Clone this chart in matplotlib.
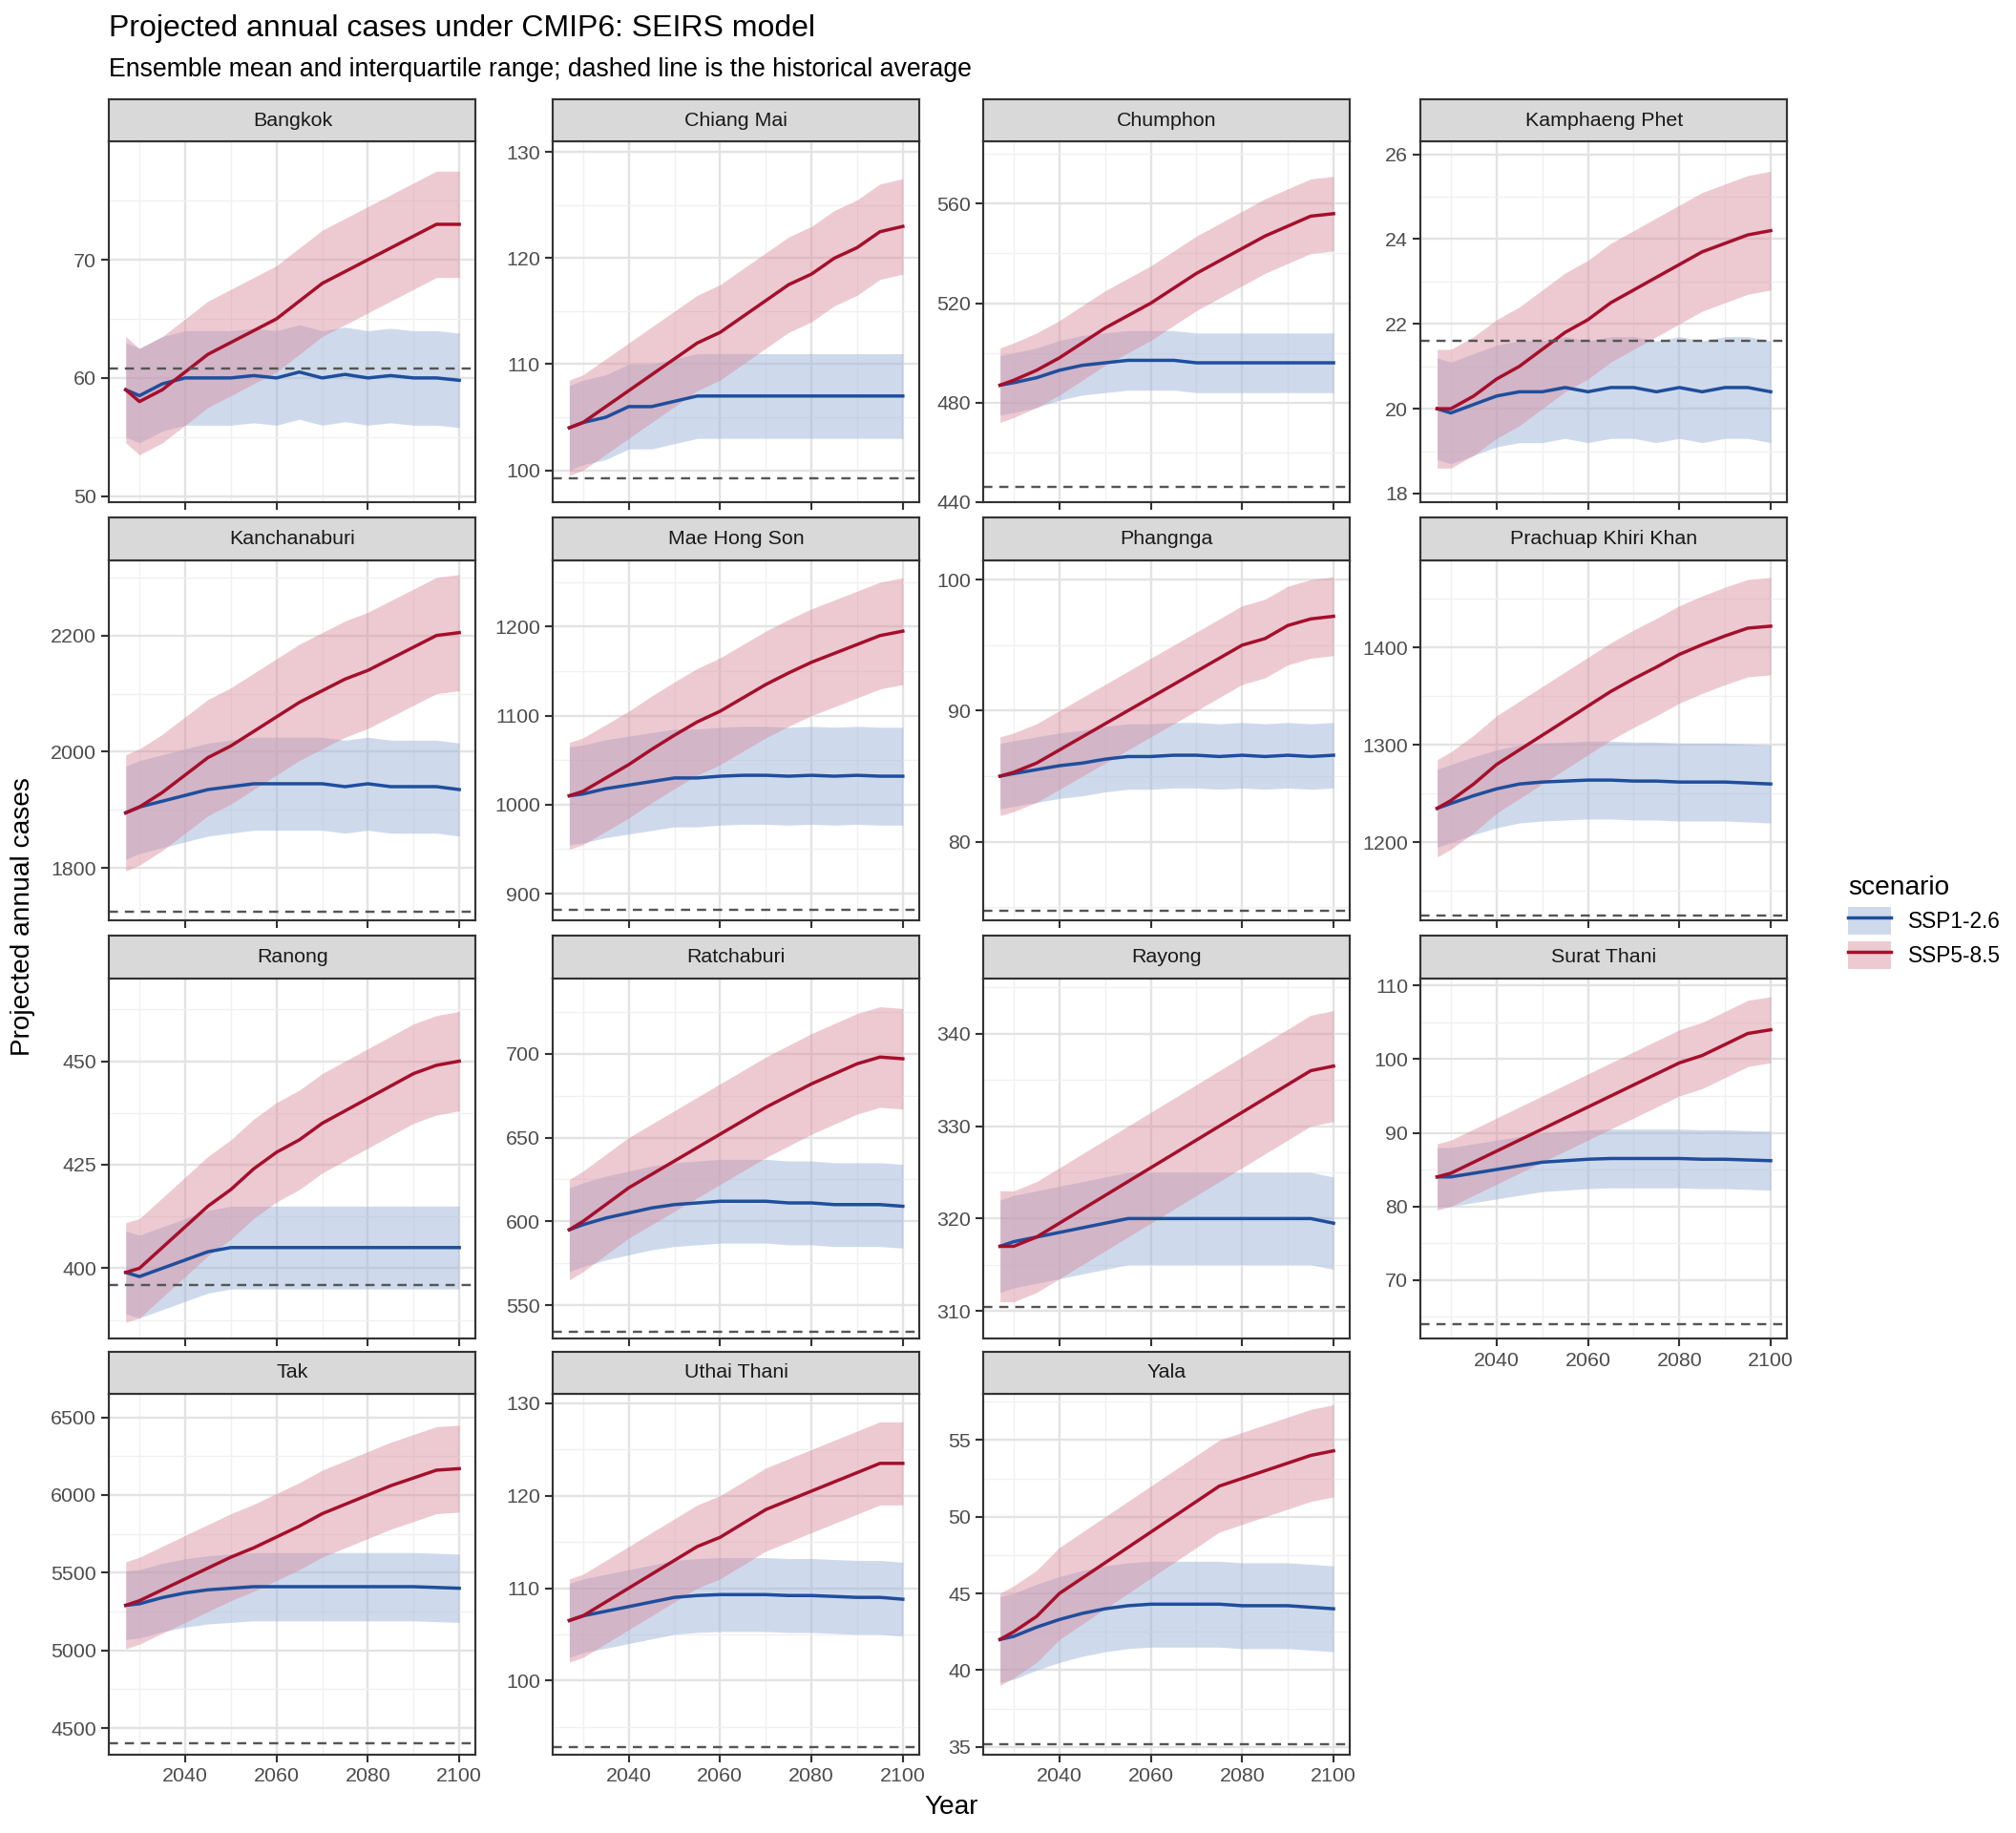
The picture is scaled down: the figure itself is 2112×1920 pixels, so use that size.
import matplotlib
matplotlib.use("Agg")
import matplotlib.pyplot as plt
from matplotlib.patches import Patch
from matplotlib.lines import Line2D
import numpy as np

plt.rcParams['font.family'] = ['Liberation Sans', 'DejaVu Sans']

years = [2027, 2030, 2035, 2040, 2045, 2050, 2055, 2060, 2065, 2070, 2075, 2080, 2085, 2090, 2095, 2100]

provinces = ["Bangkok", "Chiang Mai", "Chumphon", "Kamphaeng Phet",
             "Kanchanaburi", "Mae Hong Son", "Phangnga", "Prachuap Khiri Khan",
             "Ranong", "Ratchaburi", "Rayong", "Surat Thani",
             "Tak", "Uthai Thani", "Yala"]

ssp126 = {
    "Bangkok": [59, 58.5, 59.5, 60, 60, 60, 60.2, 60, 60.5, 60, 60.3, 60, 60.2, 60, 60, 59.8],
    "Chiang Mai": [104, 104.5, 105, 106, 106, 106.5, 107, 107, 107, 107, 107, 107, 107, 107, 107, 107],
    "Chumphon": [487, 488, 490, 493, 495, 496, 497, 497, 497, 496, 496, 496, 496, 496, 496, 496],
    "Kamphaeng Phet": [20, 19.9, 20.1, 20.3, 20.4, 20.4, 20.5, 20.4, 20.5, 20.5, 20.4, 20.5, 20.4, 20.5, 20.5, 20.4],
    "Kanchanaburi": [1895, 1905, 1915, 1925, 1935, 1940, 1945, 1945, 1945, 1945, 1940, 1945, 1940, 1940, 1940, 1935],
    "Mae Hong Son": [1010, 1012, 1018, 1022, 1026, 1030, 1030, 1032, 1033, 1033, 1032, 1033, 1032, 1033, 1032, 1032],
    "Phangnga": [85, 85.2, 85.5, 85.8, 86, 86.3, 86.5, 86.5, 86.6, 86.6, 86.5, 86.6, 86.5, 86.6, 86.5, 86.6],
    "Prachuap Khiri Khan": [1235, 1240, 1248, 1255, 1260, 1262, 1263, 1264, 1264, 1263, 1263, 1262, 1262, 1262, 1261, 1260],
    "Ranong": [399, 398, 400, 402, 404, 405, 405, 405, 405, 405, 405, 405, 405, 405, 405, 405],
    "Ratchaburi": [595, 598, 602, 605, 608, 610, 611, 612, 612, 612, 611, 611, 610, 610, 610, 609],
    "Rayong": [317, 317.5, 318, 318.5, 319, 319.5, 320, 320, 320, 320, 320, 320, 320, 320, 320, 319.5],
    "Surat Thani": [84, 84, 84.5, 85, 85.5, 86, 86.2, 86.4, 86.5, 86.5, 86.5, 86.5, 86.4, 86.4, 86.3, 86.2],
    "Tak": [5290, 5300, 5340, 5370, 5390, 5400, 5410, 5410, 5410, 5410, 5410, 5410, 5410, 5410, 5405, 5400],
    "Uthai Thani": [106.5, 107, 107.5, 108, 108.5, 109, 109.2, 109.3, 109.3, 109.3, 109.2, 109.2, 109.1, 109, 109, 108.8],
    "Yala": [42, 42.2, 42.8, 43.3, 43.7, 44, 44.2, 44.3, 44.3, 44.3, 44.3, 44.2, 44.2, 44.2, 44.1, 44],
}
ssp585 = {
    "Bangkok": [59, 58, 59, 60.5, 62, 63, 64, 65, 66.5, 68, 69, 70, 71, 72, 73, 73],
    "Chiang Mai": [104, 104.5, 106, 107.5, 109, 110.5, 112, 113, 114.5, 116, 117.5, 118.5, 120, 121, 122.5, 123],
    "Chumphon": [487, 489, 493, 498, 504, 510, 515, 520, 526, 532, 537, 542, 547, 551, 555, 556],
    "Kamphaeng Phet": [20, 20, 20.3, 20.7, 21, 21.4, 21.8, 22.1, 22.5, 22.8, 23.1, 23.4, 23.7, 23.9, 24.1, 24.2],
    "Kanchanaburi": [1895, 1905, 1930, 1960, 1990, 2010, 2035, 2060, 2085, 2105, 2125, 2140, 2160, 2180, 2200, 2205],
    "Mae Hong Son": [1010, 1015, 1030, 1045, 1062, 1078, 1093, 1105, 1120, 1135, 1148, 1160, 1170, 1180, 1190, 1195],
    "Phangnga": [85, 85.3, 86, 87, 88, 89, 90, 91, 92, 93, 94, 95, 95.5, 96.5, 97, 97.2],
    "Prachuap Khiri Khan": [1235, 1243, 1260, 1280, 1295, 1310, 1325, 1340, 1355, 1368, 1380, 1393, 1403, 1412, 1420, 1422],
    "Ranong": [399, 400, 405, 410, 415, 419, 424, 428, 431, 435, 438, 441, 444, 447, 449, 450],
    "Ratchaburi": [595, 600, 610, 620, 628, 636, 644, 652, 660, 668, 675, 682, 688, 694, 698, 697],
    "Rayong": [317, 317, 318, 319.5, 321, 322.5, 324, 325.5, 327, 328.5, 330, 331.5, 333, 334.5, 336, 336.5],
    "Surat Thani": [84, 84.5, 86, 87.5, 89, 90.5, 92, 93.5, 95, 96.5, 98, 99.5, 100.5, 102, 103.5, 104],
    "Tak": [5290, 5320, 5390, 5460, 5530, 5600, 5660, 5730, 5800, 5880, 5940, 6000, 6060, 6110, 6160, 6170],
    "Uthai Thani": [106.5, 107, 108.5, 110, 111.5, 113, 114.5, 115.5, 117, 118.5, 119.5, 120.5, 121.5, 122.5, 123.5, 123.5],
    "Yala": [42, 42.5, 43.5, 45, 46, 47, 48, 49, 50, 51, 52, 52.5, 53, 53.5, 54, 54.3],
}
# half-width of interquartile band (SSP1-2.6, SSP5-8.5)
iqr_half = {
    "Bangkok": (4, 4.5), "Chiang Mai": (4, 4.5), "Chumphon": (12, 15),
    "Kamphaeng Phet": (1.2, 1.4), "Kanchanaburi": (80, 100), "Mae Hong Son": (55, 60),
    "Phangnga": (2.5, 3), "Prachuap Khiri Khan": (40, 50), "Ranong": (10, 12),
    "Ratchaburi": (25, 30), "Rayong": (5, 6), "Surat Thani": (4, 4.5),
    "Tak": (220, 280), "Uthai Thani": (4, 4.5), "Yala": (2.8, 3),
}
hist_avg = {
    "Bangkok": 60.8, "Chiang Mai": 99.2, "Chumphon": 446, "Kamphaeng Phet": 21.6,
    "Kanchanaburi": 1725, "Mae Hong Son": 882, "Phangnga": 74.7, "Prachuap Khiri Khan": 1125,
    "Ranong": 396, "Ratchaburi": 534, "Rayong": 310.4, "Surat Thani": 64,
    "Tak": 4400, "Uthai Thani": 92.8, "Yala": 35.2,
}
ylims = {
    "Bangkok": (49.5, 80), "Chiang Mai": (97, 131), "Chumphon": (440, 585),
    "Kamphaeng Phet": (17.8, 26.3), "Kanchanaburi": (1710, 2330), "Mae Hong Son": (870, 1275),
    "Phangnga": (74, 101.5), "Prachuap Khiri Khan": (1120, 1490), "Ranong": (383, 470),
    "Ratchaburi": (530, 745), "Rayong": (307, 346), "Surat Thani": (62, 111),
    "Tak": (4330, 6650), "Uthai Thani": (92, 131), "Yala": (34.5, 58),
}
yticks = {
    "Bangkok": [50, 60, 70], "Chiang Mai": [100, 110, 120, 130], "Chumphon": [440, 480, 520, 560],
    "Kamphaeng Phet": [18, 20, 22, 24, 26], "Kanchanaburi": [1800, 2000, 2200],
    "Mae Hong Son": [900, 1000, 1100, 1200], "Phangnga": [80, 90, 100],
    "Prachuap Khiri Khan": [1200, 1300, 1400], "Ranong": [400, 425, 450],
    "Ratchaburi": [550, 600, 650, 700], "Rayong": [310, 320, 330, 340],
    "Surat Thani": [70, 80, 90, 100, 110], "Tak": [4500, 5000, 5500, 6000, 6500],
    "Uthai Thani": [100, 110, 120, 130], "Yala": [35, 40, 45, 50, 55],
}

blue, red = "#1f4e9c", "#a50f2b"
blue_fill, red_fill = "#9fb7da", "#d98a9c"

W, H = 1568.0, 1424.0
lefts = [85, 430, 765, 1105]
tops = [110, 435, 760, 1083]
pw, ph, sh = 285, 280, 33

fig = plt.figure(figsize=(11, 10), dpi=192)

for i, name in enumerate(provinces):
    r, c = divmod(i, 4)
    ax = fig.add_axes([lefts[c] / W, 1 - (tops[r] + ph) / H, pw / W, ph / H])
    m1 = np.array(ssp126[name]); m5 = np.array(ssp585[name])
    h1, h5 = iqr_half[name]
    ax.fill_between(years, m1 - h1, m1 + h1, color=blue_fill, alpha=0.5, lw=0)
    ax.fill_between(years, m5 - h5, m5 + h5, color=red_fill, alpha=0.45, lw=0)
    ax.plot(years, m1, color=blue, lw=1.3)
    ax.plot(years, m5, color=red, lw=1.3)
    ax.axhline(hist_avg[name], color="#555555", ls=(0, (4, 3)), lw=0.9)
    ax.set_xlim(2023.4, 2103.6)
    ax.set_ylim(*ylims[name])
    ax.set_yticks(yticks[name])
    ax.set_xticks([2040, 2060, 2080, 2100])
    ax.set_xticks([2030, 2050, 2070, 2090], minor=True)
    yt = yticks[name]
    ax.set_yticks([(a + b) / 2 for a, b in zip(yt[:-1], yt[1:])] +
                  [yt[0] - (yt[1] - yt[0]) / 2, yt[-1] + (yt[1] - yt[0]) / 2], minor=True)
    ax.set_ylim(*ylims[name])
    ax.grid(True, which="major", color="#e3e3e3", lw=0.9)
    ax.grid(True, which="minor", color="#f0f0f0", lw=0.5)
    ax.set_axisbelow(True)
    for s in ax.spines.values():
        s.set_color("#333333"); s.set_linewidth(0.8)
    ax.tick_params(which="major", length=3, color="#333333", labelsize=8, labelcolor="#4d4d4d", pad=2)
    ax.tick_params(which="minor", length=0)
    if not (r == 3 or name == "Surat Thani"):
        ax.tick_params(labelbottom=False)
    sax = fig.add_axes([lefts[c] / W, 1 - tops[r] / H, pw / W, sh / H])
    sax.set_facecolor("#d9d9d9")
    sax.set_xticks([]); sax.set_yticks([])
    for s in sax.spines.values():
        s.set_color("#333333"); s.set_linewidth(0.8)
    sax.text(0.5, 0.5, name, ha="center", va="center", fontsize=8, color="#1a1a1a")

fig.text(85 / W, 1 - 22 / H, "Projected annual cases under CMIP6: SEIRS model", fontsize=12, va="center")
fig.text(85 / W, 1 - 54 / H, "Ensemble mean and interquartile range; dashed line is the historical average",
         fontsize=10, va="center")
fig.text(740 / W, 1 - 1404 / H, "Year", fontsize=10.5, ha="center", va="center")
fig.text(18 / W, 0.5, "Projected annual cases", fontsize=10.5, rotation=90, ha="center", va="center")

handles = [(Patch(facecolor=blue_fill, alpha=0.5), Line2D([], [], color=blue, lw=1.3)),
           (Patch(facecolor=red_fill, alpha=0.45), Line2D([], [], color=red, lw=1.3))]
leg = fig.legend(handles, ["SSP1-2.6", "SSP5-8.5"], title="scenario", loc="upper left",
                 bbox_to_anchor=(1422 / W, 1 - 665 / H), frameon=False, fontsize=8.5,
                 title_fontsize=10.5, handlelength=2, handleheight=1.6, labelspacing=0.3)
leg._legend_box.align = "left"

fig.savefig("out.png", dpi=192)
